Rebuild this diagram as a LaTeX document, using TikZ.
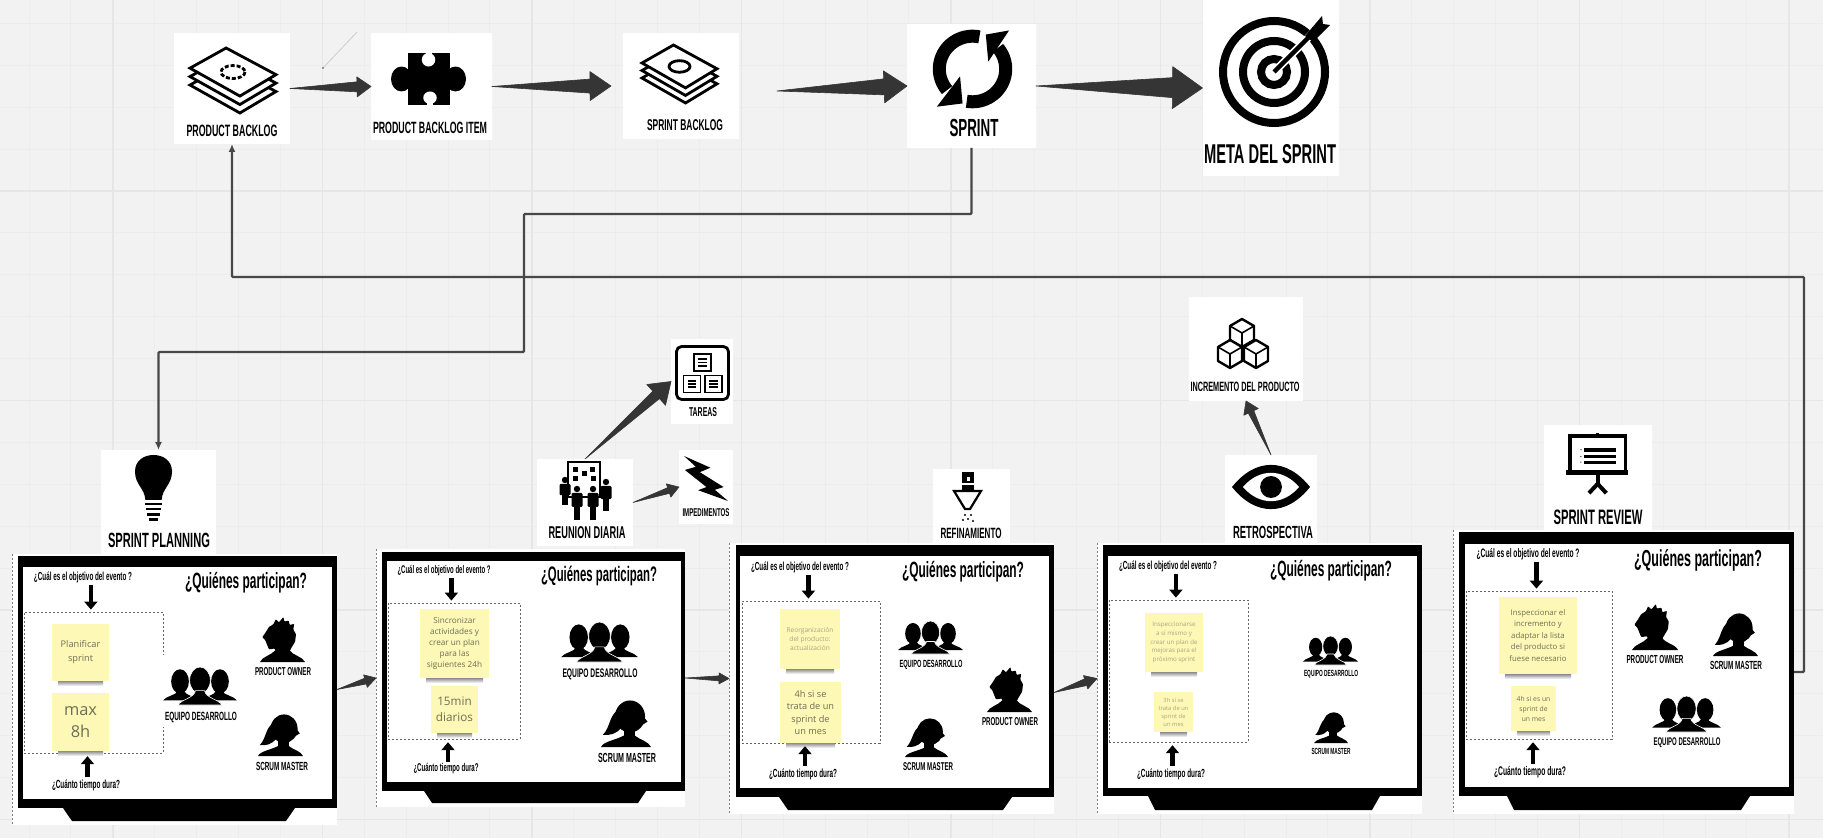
\documentclass[tikz,border=0pt]{standalone}
\usepackage{graphicx}
\usepackage{fontspec}
\usetikzlibrary{arrows.meta,calc,fit}
\newfontfamily\capfont{Liberation Sans}
\newfontfamily\notefont{Open Sans}
\definecolor{boardbg}{HTML}{F2F2F2}
\definecolor{gridminor}{HTML}{ECECEC}
\definecolor{gridmajor}{HTML}{E6E6E6}
\definecolor{notefill}{HTML}{FEF8B6}
\definecolor{noteink}{HTML}{6E6E58}
\definecolor{notepale}{HTML}{A8A580}
\definecolor{wedgegray}{HTML}{353535}
\tikzset{
	card/.style    = {fill=white, rectangle, inner sep=0pt, outer sep=0pt},
	captext/.style = {inner sep=0pt, outer sep=1pt, text=black},
	dots/.style    = {draw=black!60, dash pattern=on 1pt off 1pt, line width=0.4pt, inner sep=0pt, outer sep=0pt},
	link/.style    = {draw=black!72, line width=1.1pt, rounded corners=0.5pt, -{Latex[length=4pt,width=3.5pt]}},
	pointer/.style = {draw=black, line width=2.4pt, -{Triangle[length=4pt,width=6.5pt]}},
	wedge/.style   = {fill=wedgegray, draw=wedgegray, line width=0.3pt, line join=round},
}
% Caption text squeezed to a given width in pixels
\newcommand{\capt}[2]{\resizebox{\dimexpr #1pt/2\relax}{!}{\scalebox{0.54}[1]{\capfont\bfseries #2}}}
% Arrow growing from tail to head: tail, tip, half shaft, half head, head length
\newcommand{\taper}[5]{
	\path[wedge] (#1)
		-- ($(#2)!{#5*0.5pt}!(#1)!{#3*0.5pt}!90:(#2)$)
		-- ($(#2)!{#5*0.5pt}!(#1)!{#4*0.5pt}!90:(#2)$)
		-- (#2)
		-- ($(#2)!{#5*0.5pt}!(#1)!{#4*0.5pt}!-90:(#2)$)
		-- ($(#2)!{#5*0.5pt}!(#1)!{#3*0.5pt}!-90:(#2)$)
		-- cycle;
}
% Icon drawn on 0..100 squares fitted to a box
\newcommand{\iconbox}[5]{
	\begin{scope}[shift={(#1,#2)},xscale={(#3-#1)/100},yscale={(#4-#2)/100}]
		#5
	\end{scope}
}
% Sticky note: name, x, y, width, height, size, pitch, ink, text
\newcommand{\note}[9]{
	\node[fill=notefill, inner sep=0pt, outer sep=0pt, align=center, text=#8,
		minimum width=#4*0.5pt, minimum height=#5*0.5pt,
		font={\notefont\fontsize{#6}{#7}\selectfont}] (#1) at (#2,#3) {#9};
	\shade[top color=black!45, bottom color=white]
		([xshift=3pt]#1.south west) rectangle ([xshift=-3pt,yshift=-2.5pt]#1.south east);
}
\newcommand{\teamicon}{
	\fill (23,38) ellipse [x radius=12, y radius=32];
	\fill (77,38) ellipse [x radius=12, y radius=32];
	\fill (0,88) .. controls (5,75) and (18,75) .. (20,62) -- (28,62) .. controls (30,75) and (45,78) .. (48,88) -- cycle;
	\fill (100,88) .. controls (95,75) and (82,75) .. (80,62) -- (72,62) .. controls (70,75) and (55,78) .. (52,88) -- cycle;
	\filldraw[draw=white, line width=0.3pt] (50,35) ellipse [x radius=14, y radius=35];
	\filldraw[draw=white, line width=0.3pt] (20,100) .. controls (25,85) and (42,82) .. (44,62) -- (56,62) .. controls (58,82) and (75,85) .. (80,100) -- cycle;
}
\newcommand{\ownericon}{
	\fill[rounded corners=0.4pt] (12,35) -- (20,22) -- (30,16) -- (35,5) -- (42,12) -- (52,0) -- (54,10) -- (64,8) -- (66,18) -- (76,15)
		-- (74,28) -- (80,38) -- (78,55) -- (70,68) -- (66,76) -- (34,76) -- (33,70) -- (20,72) -- (15,60) -- (12,52) -- (5,45) -- cycle;
	\fill (0,100) .. controls (5,88) and (25,85) .. (34,74) -- (66,74) .. controls (72,85) and (95,88) .. (100,100) -- cycle;
}
\newcommand{\mastericon}{
	\fill (58,35) ellipse [x radius=30, y radius=34];
	\fill (35,20) .. controls (15,35) and (20,55) .. (4,74) .. controls (18,76) and (30,72) .. (40,60) -- cycle;
	\fill (84,34) -- (93,46) -- (84,52) -- cycle;
	\fill (45,60) rectangle (68,82);
	\fill (0,100) .. controls (5,88) and (30,85) .. (45,76) -- (68,76) .. controls (78,85) and (95,88) .. (100,100) -- cycle;
}
\newcommand{\stackicon}[1]{
	\foreach \dy in {26,13,0}
		\filldraw[fill=white, draw=black, line width=1.4pt, line join=miter]
			(42,\dy) -- (100,41+\dy) -- (58,74+\dy) -- (0,31+\dy) -- cycle;
	\draw[line width=1.4pt, #1] (50,37) ellipse [x radius=14, y radius=10];
}

\begin{document}
\begin{tikzpicture}[x=0.5pt, y=-0.5pt]
	\useasboundingbox (0,0) rectangle (1823,838);

	% Board background
	\fill[boardbg] (0,0) rectangle (1823,838);
	\foreach \k in {0,...,44} {
		\draw[gridminor, line width=0.5pt] ({29+41.9*\k},0) -- ({29+41.9*\k},838);
	}
	\foreach \k in {0,...,19} {
		\draw[gridminor, line width=0.5pt] (0,{23.4+41.9*\k}) -- (1823,{23.4+41.9*\k});
	}
	\foreach \k in {0,...,8} {
		\draw[gridmajor, line width=0.9pt] ({113+209.5*\k},0) -- ({113+209.5*\k},838);
	}
	\foreach \k in {0,...,3} {
		\draw[gridmajor, line width=0.9pt] (0,{191+209.5*\k}) -- (1823,{191+209.5*\k});
	}

	% Top row cards
	\node[card, fit={(174,33) (290,144)}] (backlog) {};
	\node[card, fit={(371,33) (492,140)}] (item) {};
	\node[card, fit={(623,33) (739,139)}] (sprintlog) {};
	\node[card, fit={(907,24) (1036,148)}] (sprint) {};
	\node[card, fit={(1202.5,0) (1339,176)}] (goal) {};

	\iconbox{190}{48}{276}{113}{\stackicon{dash pattern=on 2pt off 1pt}}
	\node[captext] (capBacklog) at (232,131) {\capt{91}{PRODUCT BACKLOG}};

	\iconbox{391}{53}{466}{105}{
		\fill (22,0) rectangle (79,100);
		\fill (14,50) ellipse [x radius=14, y radius=24];
		\fill (86,50) ellipse [x radius=14, y radius=24];
		\fill[white] (50,13) ellipse [x radius=9, y radius=13];
		\fill[white] (46,0) rectangle (54,12);
		\fill[white] (52,86) ellipse [x radius=9, y radius=12];
		\fill[white] (48,88) rectangle (56,100);
	}
	\node[captext] (capItem) at (430,128) {\capt{114}{PRODUCT BACKLOG ITEM}};

	\iconbox{642}{45}{717}{103}{\stackicon{solid}}
	\node[captext] (capSprintlog) at (685,125) {\capt{76}{SPRINT BACKLOG}};

	\iconbox{931}{28}{1014}{110}{
		\draw[line width=6.5pt] plot[domain=282:140, samples=30] ({50+40*cos(\x)},{50+40*sin(\x)});
		\fill (35,59) -- (7,96) -- (38,92) -- cycle;
		\draw[line width=6.5pt] plot[domain=100:-40, samples=30] ({50+40*cos(\x)},{50+40*sin(\x)});
		\fill (66,8) -- (94,3) -- (69,41) -- cycle;
	}
	\node[captext] (capSprint) at (974,128) {\capt{49}{SPRINT}};

	\draw[line width=4pt] (1274,72) circle [radius=51];
	\draw[line width=4pt] (1274,72) circle [radius=31];
	\draw[line width=4pt] (1274,72) circle [radius=13];
	\draw[white, line width=4pt] (1274,72) -- (1330,16);
	\draw[line width=2.2pt] (1274,72) -- (1310,36);
	\fill (1305,36) -- (1322,16) -- (1323,24) -- (1330,25) -- (1313,42) -- cycle;
	\node[captext] (capGoal) at (1270,154) {\capt{132}{META DEL SPRINT}};

	% Top row arrows
	\coordinate (strayA) at (323,68);
	\coordinate (strayB) at (357,32);
	\draw[black!20, line width=0.4pt] (strayA) -- (strayB);
	\fill[black!70] (strayA) circle [radius=0.8];
	\taper{backlog.east}{item.west}{5}{10}{14}
	\taper{item.east}{[xshift=-6pt]sprintlog.west}{7}{14.5}{21}
	\taper{[xshift=19pt,yshift=-2.5pt]sprintlog.east}{sprint.west}{8}{16}{23}
	\taper{sprint.east}{goal.west}{10}{21}{30}

	% Monitors
	\foreach \n/\wL/\wT/\wR/\wB/\fL/\fT/\fB/\iL/\iT/\iR/\iB/\sA/\sB/\sC/\sD/\sY in {
		A/12/554/337/825/18/556/808/23/567/332/799/63/295/72/286/821,
		B/376/549/685/807/382/552/791/387/561/681/782/424/646/432/638/803,
		C/729/543/1054/814/736/545/797/740/556/1049/788/779/1012/788/1003/810,
		D/1097/543/1422/814/1103/545.5/796/1108/556/1417/788/1148/1380/1155/1372/810,
		E/1453/530/1794/814/1459/532/796/1465/544/1789/787/1507/1750/1514/1741/810} {
		\node[card, fit={(\wL,\wT) (\wR,\wB)}] (screen\n) {};
		\draw[black!50, dash pattern=on 1pt off 1pt, line width=0.4pt] (screen\n.north west) -- (screen\n.south west);
		\fill (\fL,\fT) rectangle (\wR,\fB);
		\fill (\sA,\fB) -- (\sB,\fB) -- (\sD,\sY) -- (\sC,\sY) -- cycle;
		\fill[white] (\iL,\iT) rectangle (\iR,\iB);
	}

	% Event cards above the monitors
	\node[card, fit={(101,450) (216,554)}] (planning) {};
	\iconbox{135}{455}{172}{521}{
		\fill (28,68) .. controls (26,50) and (0,45) .. (0,25) .. controls (0,8) and (25,0) .. (50,0)
			.. controls (75,0) and (100,8) .. (100,25) .. controls (100,45) and (74,50) .. (72,68) -- cycle;
		\fill (28,72) rectangle (72,76);
		\fill (30,80) rectangle (70,84);
		\fill (33,88) rectangle (67,92);
		\fill (38,96) rectangle (62,100);
	}
	\node[captext] (capPlanning) at (159,540) {\capt{102}{SPRINT PLANNING}};

	\node[card, fit={(537,459) (633,546)}] (meeting) {};
	\draw[line width=0.6pt] (568,462) rectangle (600,497);
	\foreach \px/\py in {575/470,584/474,592/470,575/479,593/479} {
		\fill (\px-2.5,\py-2.5) rectangle (\px+2.5,\py+2.5);
	}
	\foreach \px/\py/\pb in {565/480/505,606/482/511,577/489/520,593/489/520} {
		\fill (\px,\py) circle [radius=3.2];
		\fill[rounded corners=0.6pt] (\px-5.5,\py+4) rectangle (\px+5.5,{\py+4+(\pb-\py)*0.45});
		\fill (\px-3,\py+8) rectangle (\px+3,\pb);
	}
	\node[captext] (capMeeting) at (587,533) {\capt{77}{REUNION DIARIA}};

	\node[card, fit={(671,339) (733,424)}] (tasks) {};
	\iconbox{676}{346}{729}{400}{
		\draw[line width=1.4pt, rounded corners=2.5pt] (1,1) rectangle (99,99);
		\foreach \ax/\ay in {34/15,14/55,55/55} {
			\draw[line width=0.7pt] (\ax,\ay) rectangle (\ax+32,\ay+31);
			\fill (\ax+8,\ay+8) rectangle (\ax+24,\ay+11);
			\fill (\ax+8,\ay+14) rectangle (\ax+24,\ay+17);
			\fill (\ax+8,\ay+20) rectangle (\ax+24,\ay+23);
		}
	}
	\node[captext] (capTasks) at (703,412) {\capt{28}{TAREAS}};

	\node[card, fit={(679,450) (733,524)}] (blockers) {};
	\iconbox{684}{456}{728}{501}{
		\fill (0,0) -- (60,26) -- (36,36) -- (90,69) -- (70,75) -- (100,100) -- (32,76) -- (51,69) -- (2,31) -- (27,24) -- cycle;
	}
	\node[captext] (capBlockers) at (706,513) {\capt{47}{IMPEDIMENTOS}};

	\node[card, fit={(933,469) (1010,543)}] (refine) {};
	\fill (962,472) rectangle (974,483);
	\fill (962,485) rectangle (974,490);
	\fill[white] (966.5,477) rectangle (969.5,481);
	\draw[line width=1.1pt] (954,491) -- (981,491) -- (970,509) -- (965,509) -- cycle;
	\foreach \px/\py in {965/515,971/515,963/520,968/519,973/521} {
		\fill (\px,\py) circle [radius=1.1];
	}
	\node[captext] (capRefine) at (971,533) {\capt{61}{REFINAMIENTO}};

	\node[card, fit={(1225,455) (1317,543)}] (retro) {};
	\iconbox{1232}{465}{1310}{509}{
		\fill (0,50) .. controls (30,-17) and (70,-17) .. (100,50) .. controls (70,117) and (30,117) .. (0,50) -- cycle;
		\fill[white] (14,50) .. controls (35,7) and (65,7) .. (86,50) .. controls (65,93) and (35,93) .. (14,50) -- cycle;
		\fill (50,50) ellipse [x radius=14, y radius=25];
	}
	\node[captext] (capRetro) at (1273,532) {\capt{80}{RETROSPECTIVA}};

	\node[card, fit={(1189,297) (1303,401)}] (increment) {};
	\foreach \cx/\cy in {1242/333,1230/354,1256/354} {
		\filldraw[fill=white, line width=1.2pt, line join=round] (\cx,\cy-14) -- (\cx+12,\cy-7) -- (\cx+12,\cy+7) -- (\cx,\cy+14) -- (\cx-12,\cy+7) -- (\cx-12,\cy-7) -- cycle;
		\draw[line width=0.8pt] (\cx-12,\cy-7) -- (\cx,\cy) -- (\cx+12,\cy-7) (\cx,\cy) -- (\cx,\cy+14);
	}
	\node[captext] (capIncrement) at (1245,387) {\capt{109}{INCREMENTO DEL PRODUCTO}};

	\node[card, fit={(1544,425) (1652,530)}] (review) {};
	\iconbox{1566}{433}{1628}{495}{
		\draw[line width=1.8pt] (6,5) rectangle (96,62);
		\fill (0,60) rectangle (100,68);
		\fill (49,0) rectangle (53,5);
		\draw[line width=2pt] (51,68) -- (51,82);
		\draw[line width=2pt] (37,97) -- (51,82) -- (65,97);
		\fill (29,24) rectangle (80,31);
		\fill (29,35) rectangle (80,41);
		\fill (29,45) rectangle (80,50);
		\fill (24,27) circle [radius=1];
		\fill (24,38) circle [radius=1];
		\fill (24,47) circle [radius=1];
	}
	\node[captext] (capReview) at (1598,517) {\capt{89}{SPRINT REVIEW}};

	% Dashed activity boxes
	\node[dots, fit={(24,612) (163,753)}] (activityA) {};
	\node[dots, fit={(388,603) (520,739)}] (activityB) {};
	\node[dots, fit={(742,601) (880,743)}] (activityC) {};
	\node[dots, fit={(1109,600) (1248,742)}] (activityD) {};
	\node[dots, fit={(1466,591) (1612,739)}] (activityE) {};
	\node[card, fit={(163.3,655) (237,727)}] (teamcardA) {};

	% Questions and titles
	\node[captext] (askA) at (83,577) {\capt{98}{¿Cuál es el objetivo del evento ?}};
	\node[captext] (askB) at (444,571) {\capt{93}{¿Cuál es el objetivo del evento ?}};
	\node[captext] (askC) at (800,567) {\capt{98}{¿Cuál es el objetivo del evento ?}};
	\node[captext] (askD) at (1168,566) {\capt{98}{¿Cuál es el objetivo del evento ?}};
	\node[captext] (askE) at (1528,554) {\capt{103}{¿Cuál es el objetivo del evento ?}};
	\node[captext] (durationA) at (86,785) {\capt{68}{¿Cuánto tiempo dura?}};
	\node[captext] (durationB) at (446,769) {\capt{65}{¿Cuánto tiempo dura?}};
	\node[captext] (durationC) at (803,774) {\capt{68}{¿Cuánto tiempo dura?}};
	\node[captext] (durationD) at (1171,774) {\capt{68}{¿Cuánto tiempo dura?}};
	\node[captext] (durationE) at (1530,772) {\capt{72}{¿Cuánto tiempo dura?}};
	\node[captext] (whoA) at (246,583) {\capt{122}{¿Quiénes participan?}};
	\node[captext] (whoB) at (599,576) {\capt{116}{¿Quiénes participan?}};
	\node[captext] (whoC) at (963,572) {\capt{122}{¿Quiénes participan?}};
	\node[captext] (whoD) at (1331,571) {\capt{122}{¿Quiénes participan?}};
	\node[captext] (whoE) at (1698,560) {\capt{128}{¿Quiénes participan?}};

	% Sticky notes
	\note{goalA}{80.5}{652.5}{57}{57}{4.6}{7}{noteink}{Planificar\\sprint}
	\note{timeA}{80.5}{722}{57}{58}{8.2}{11.3}{noteink}{max\\8h}
	\note{goalB}{454.5}{643.5}{69}{69}{4.1}{5.5}{noteink}{Sincronizar\\actividades y\\crear un plan\\para las\\siguientes 24h}
	\note{timeB}{454.5}{709.5}{47}{47}{5.85}{8}{noteink}{15min\\diarios}
	\note{goalC}{810}{639}{60}{60}{3.3}{4.5}{notepale}{Reorganización\\del producto:\\actualización}
	\note{timeC}{810.5}{712.5}{61}{61}{4.6}{6.3}{noteink}{4h si se\\trata de un\\sprint de\\un mes}
	\note{goalD}{1174}{642.5}{58}{59}{3.1}{4.3}{notepale}{Inspeccionarse\\a sí mismo y\\crear un plan de\\mejoras para el\\próximo sprint}
	\note{timeD}{1173.5}{712}{39}{40}{2.9}{4}{notepale}{3h si se\\trata de un\\sprint de\\un mes}
	\note{goalE}{1538}{635.5}{78}{77}{3.9}{5.75}{noteink}{Inspeccionar el\\incremento y\\adaptar la lista\\del producto si\\fuese necesario}
	\note{timeE}{1533.5}{708.5}{45}{45}{3.4}{5}{noteink}{4h si es un\\sprint de\\un mes}

	% Black pointers between questions and activity boxes
	\foreach \n in {A,B,C,D,E} {
		\draw[pointer, shorten >=1.2pt] ([xshift=-1.3pt]activity\n.north |- ask\n.south) -- ([xshift=-1.3pt]activity\n.north);
		\draw[pointer, shorten >=1.6pt] ([xshift=-3pt]activity\n.south |- duration\n.north) -- ([xshift=-3pt]activity\n.south);
	}

	% Roles
	\iconbox{163}{667}{237}{705}{\teamicon}
	\node[captext] (teamA) at (201,718) {\capt{72}{EQUIPO DESARROLLO}};
	\iconbox{260}{617}{305}{662}{\ownericon}
	\node[captext] (ownerA) at (283,672) {\capt{56}{PRODUCT OWNER}};
	\iconbox{258}{714}{303}{756}{\mastericon}
	\node[captext] (masterA) at (282,766) {\capt{52}{SCRUM MASTER}};

	\iconbox{561}{622}{638}{662}{\teamicon}
	\node[captext] (teamB) at (600,674) {\capt{75}{EQUIPO DESARROLLO}};
	\iconbox{601}{700}{651}{747}{\mastericon}
	\node[captext] (masterB) at (627,758) {\capt{58}{SCRUM MASTER}};

	\iconbox{898}{621}{963}{654}{\teamicon}
	\node[captext] (teamC) at (931,665) {\capt{63}{EQUIPO DESARROLLO}};
	\iconbox{987}{667}{1032}{712}{\ownericon}
	\node[captext] (ownerC) at (1010,722) {\capt{56}{PRODUCT OWNER}};
	\iconbox{905}{718}{948}{757}{\mastericon}
	\node[captext] (masterC) at (928,767) {\capt{50}{SCRUM MASTER}};

	\iconbox{1303}{636}{1358}{665}{\teamicon}
	\node[captext] (teamD) at (1331,674) {\capt{54}{EQUIPO DESARROLLO}};
	\iconbox{1314}{712}{1348}{743}{\mastericon}
	\node[captext] (masterD) at (1331,751) {\capt{39}{SCRUM MASTER}};

	\iconbox{1632}{604}{1678}{650}{\ownericon}
	\node[captext] (ownerE) at (1655,659) {\capt{57}{PRODUCT OWNER}};
	\iconbox{1713}{613}{1758}{656}{\mastericon}
	\node[captext] (masterE) at (1736,665) {\capt{52}{SCRUM MASTER}};
	\iconbox{1652}{696}{1721}{732}{\teamicon}
	\node[captext] (teamE) at (1687,743) {\capt{67}{EQUIPO DESARROLLO}};

	% Lower arrows
	\taper{meeting.north}{tasks.west}{5}{14}{20}
	\taper{meeting.east}{blockers.west}{3}{7}{11}
	\taper{retro.north}{increment.south}{3}{8}{12}
	\taper{screenA.east}{screenB.west}{3}{6.5}{11}
	\taper{screenB.east}{screenC.west}{2.5}{5.5}{10}
	\taper{[yshift=-7pt]screenC.east}{screenD.west}{3.5}{7}{12}

	% Long connectors
	\coordinate (railA) at (524,214);
	\coordinate (railB) at (524,352);
	\coordinate (railC) at (1804,277);
	\draw[link] (sprint.south) |- (railA) -- (railB) -| (planning.north);
	\draw[link] (screenE.east) -| (railC) -| (backlog.south);
\end{tikzpicture}
\end{document}
